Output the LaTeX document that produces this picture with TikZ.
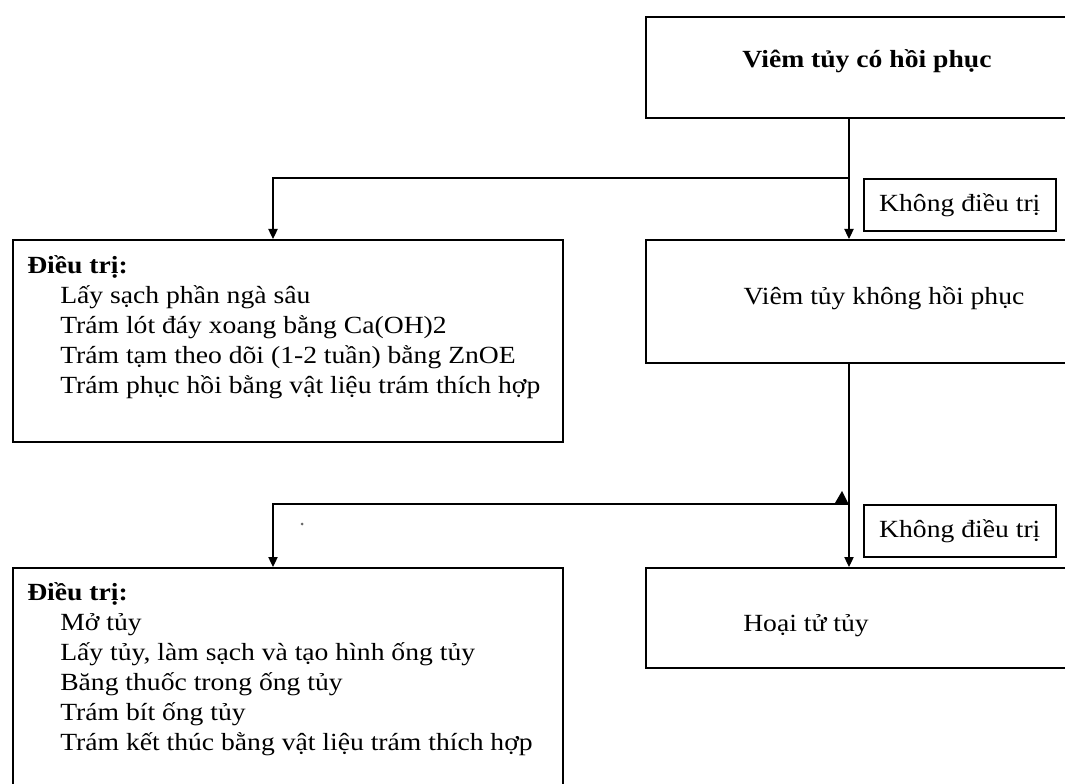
\documentclass[tikz,border=0pt]{standalone}
\usepackage{fontspec}
\setmainfont[FakeStretch=1.12]{Liberation Serif}
\usetikzlibrary{arrows.meta,positioning}

\tikzset{
	box/.style={draw, line width=1.2pt, rectangle, anchor=north west, inner sep=0pt},
	tagbox/.style={box, minimum width=144pt, minimum height=39pt},
	arr/.style={line width=0.9pt, -{Triangle[length=7.5pt,width=7pt]}},
	txt/.style={inner sep=0pt, font=\fontsize{18.5}{22.5}\selectfont}
}

\begin{document}
\begin{tikzpicture}[x=0.75pt, y=-0.75pt]
			%%%%% START %%%%%
			\useasboundingbox (0, 0) rectangle (1065, 784);
			\clip (0, 0) rectangle (1065, 784);
			
			% right column
			\node[box, minimum width=333pt, minimum height=75.75pt] (rev) at (645, 16) {};
			\node[box, minimum width=333pt, minimum height=92.25pt] (irr) at (645, 239) {};
			\node[box, minimum width=333pt, minimum height=75pt] (nec) at (645, 567) {};
			
			\node[txt, font=\fontsize{18.5}{22.5}\selectfont\bfseries] (revtxt) at (867, 61) {Viêm tủy có hồi phục};
			\node[txt] (irrtxt) at (884, 298) {Viêm tủy không hồi phục};
			\node[txt, anchor=west] (nectxt) at (743, 626) {Hoại tử tủy};
			
			% untreated tags
			\node[tagbox, txt] (tag1) at (863, 178) {Không điều trị};
			\node[tagbox, txt] (tag2) at (863, 504) {Không điều trị};
			
			% treatment boxes
			\node[box, minimum width=412.5pt, minimum height=151.5pt] (treat1) at (12, 239) {};
			\node[box, minimum width=412.5pt, minimum height=172.5pt] (treat2) at (12, 567) {};
			
			\node[txt, anchor=north west, align=left] (treat1txt) at (27, 255) {%
				\textbf{Điều trị:}\\
				\hspace*{24.75pt}Lấy sạch phần ngà sâu\\
				\hspace*{24.75pt}Trám lót đáy xoang bằng Ca(OH)2\\
				\hspace*{24.75pt}Trám tạm theo dõi (1-2 tuần) bằng ZnOE\\
				\hspace*{24.75pt}Trám phục hồi bằng vật liệu trám thích hợp};
			
			\node[txt, anchor=north west, align=left] (treat2txt) at (27, 582) {%
				\textbf{Điều trị:}\\
				\hspace*{24.75pt}Mở tủy\\
				\hspace*{24.75pt}Lấy tủy, làm sạch và tạo hình ống tủy\\
				\hspace*{24.75pt}Băng thuốc trong ống tủy\\
				\hspace*{24.75pt}Trám bít ống tủy\\
				\hspace*{24.75pt}Trám kết thúc bằng vật liệu trám thích hợp};
			
			% connectors
			\coordinate (split1) at (849, 178);
			\coordinate (drop1) at (273, 178);
			\coordinate (split2) at (849, 504);
			\coordinate (drop2) at (273, 504);
			
			\draw[arr, line width=0.8pt] (rev.south west -| split1) -- (irr.north west -| split1);
			\draw[arr] (split1) -- (drop1) -- (treat1.north west -| drop1);
			\draw[arr] (irr.south west -| split2) -- (nec.north west -| split2);
			\draw[arr] (split2) -- (drop2) -- (treat2.north west -| drop2);
			
			% stray marks
			\fill (842, 491) -- (835, 503) -- (848, 503) -- cycle;
			\fill[black!60] (302, 524) circle (1.5);
			
			%%%%% END %%%%%
		\end{tikzpicture}
\end{document}
